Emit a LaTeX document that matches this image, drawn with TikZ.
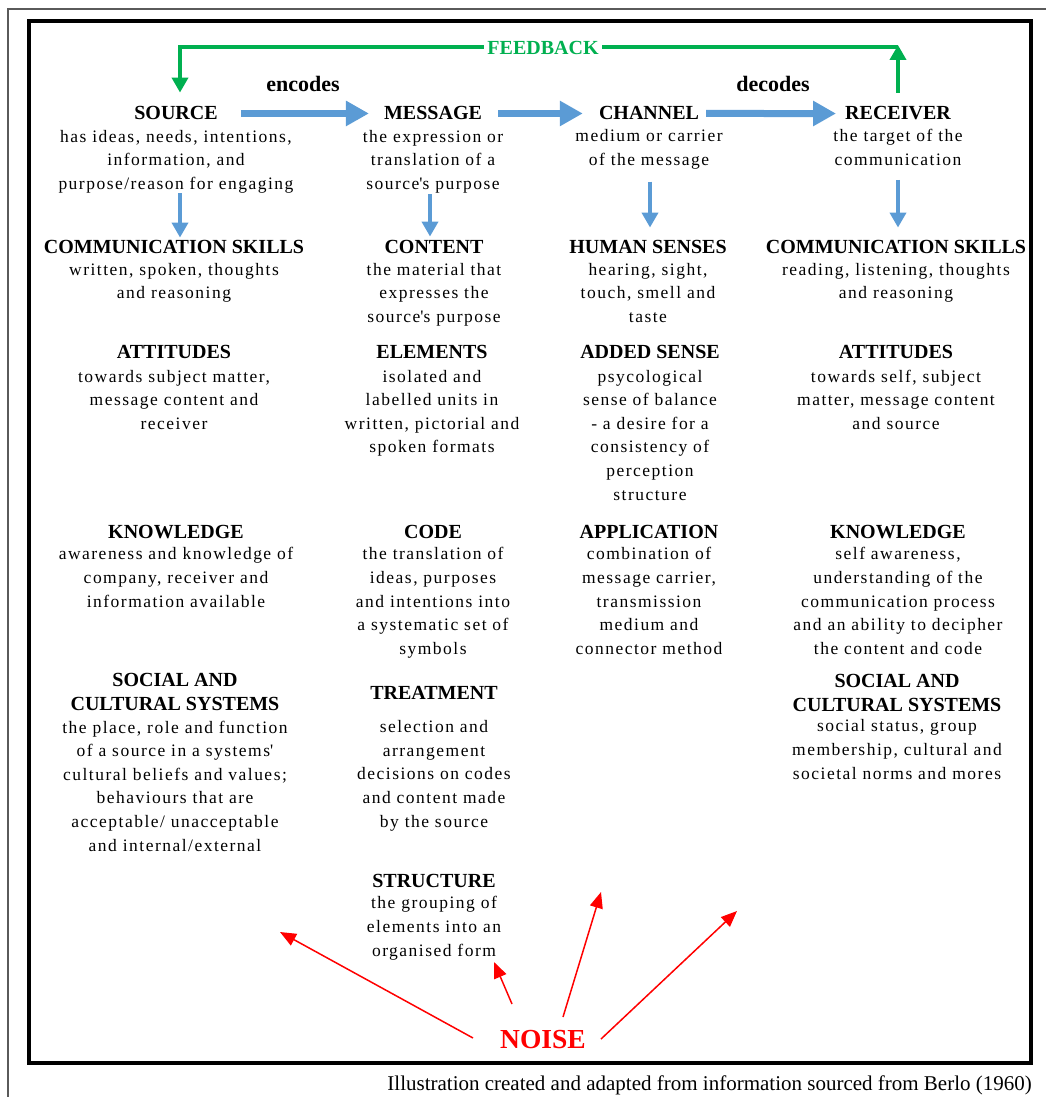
\documentclass[tikz,border=0pt]{standalone}
\usepackage{fontspec}
\setmainfont{Liberation Serif}
\newfontfamily\spacedserif[LetterSpace=8.5]{Liberation Serif}
\usetikzlibrary{arrows.meta}

\definecolor{flowblue}{HTML}{5B9BD5}
\definecolor{fbgreen}{HTML}{00B050}
\definecolor{noisered}{HTML}{FF0000}
\definecolor{rulegray}{HTML}{5A5A5A}

% multi-line nodes sit on the baseline of their last line
\begin{document}
\begin{tikzpicture}[x=1pt,y=-1pt,
  hd/.style={anchor=base, inner sep=0pt, align=center, font=\bfseries\fontsize{20}{24}\selectfont},
  bd/.style={anchor=base, inner sep=0pt, align=center, font=\spacedserif\fontsize{17.5}{23.6}\selectfont},
  flow/.style={draw=flowblue, line width=7pt, -{Triangle[length=23pt,width=24pt]}},
  down/.style={draw=flowblue, line width=4.5pt, -{Triangle[length=15pt,width=16pt]}},
  fb/.style={draw=fbgreen, line width=4pt},
  fbtip/.style={-{Triangle[length=15pt,width=16pt]}},
  noisearrow/.style={draw=noisered, line width=1.5pt, -{Triangle[length=16pt,width=13pt]}},
  lbl/.style={anchor=base, inner sep=0pt, font=\bfseries\fontsize{22}{24}\selectfont},
]
\useasboundingbox (0,0) rectangle (1046,1097);

% frames
\draw[rulegray, line width=1.5pt] (8,1097) -- (8,9) -- (1046,9);
\draw[black, line width=3.5pt] (29,21) rectangle (1031,1063);

% row 1: the four stages
\node[hd] (src) at (176,120) {SOURCE};
\node[bd] (srcb) at (176,189.2) {has ideas, needs, intentions,\\information, and\\purpose/reason for engaging};
\node[hd] (msg) at (433,120) {MESSAGE};
\node[bd] (msgb) at (433,189.2) {the expression or\\translation of a\\source\textquotesingle s purpose};
\node[hd] (chn) at (649,120) {CHANNEL};
\node[bd] (chnb) at (649,165.6) {medium or carrier\\of the message};
\node[hd] (rcv) at (898,120) {RECEIVER};
\node[bd] (rcvb) at (898,165.6) {the target of the\\communication};

% row 2
\node[hd] (skl) at (174,253) {COMMUNICATION SKILLS};
\node[bd] (sklb) at (174,298.6) {written, spoken, thoughts\\and reasoning};
\node[hd] (cnt) at (434,253) {CONTENT};
\node[bd] (cntb) at (434,322.2) {the material that\\expresses the\\source\textquotesingle s purpose};
\node[hd] (sns) at (648,253) {HUMAN SENSES};
\node[bd] (snsb) at (648,322.2) {hearing, sight,\\touch, smell and\\taste};
\node[hd] (skr) at (896,253) {COMMUNICATION SKILLS};
\node[bd] (skrb) at (896,298.6) {reading, listening, thoughts\\and reasoning};

% row 3
\node[hd] (atl) at (174,358) {ATTITUDES};
\node[bd] (atlb) at (174,429.2) {towards subject matter,\\message content and\\receiver};
\node[hd] (elm) at (432,358) {ELEMENTS};
\node[bd] (elmb) at (432,452.8) {isolated and\\labelled units in\\written, pictorial and\\spoken formats};
\node[hd] (add) at (650,358) {ADDED SENSE};
\node[bd] (addb) at (650,500) {psycological\\sense of balance\\- a desire for a\\consistency of\\perception\\structure};
\node[hd] (atr) at (896,358) {ATTITUDES};
\node[bd] (atrb) at (896,429.2) {towards self, subject\\matter, message content\\and source};

% row 4
\node[hd] (knl) at (176,538) {KNOWLEDGE};
\node[bd] (knlb) at (176,607) {awareness and knowledge of\\company, receiver and\\information available};
\node[hd] (cod) at (433,538) {CODE};
\node[bd] (codb) at (433,654.2) {the translation of\\ideas, purposes\\and intentions into\\a systematic set of\\symbols};
\node[hd] (app) at (649,538) {APPLICATION};
\node[bd] (appb) at (649,654.2) {combination of\\message carrier,\\transmission\\medium and\\connector method};
\node[hd] (knr) at (898,538) {KNOWLEDGE};
\node[bd] (knrb) at (898,654.2) {self awareness,\\understanding of the\\communication process\\and an ability to decipher\\the content and code};

% row 5
\node[hd] (scl) at (175,710) {SOCIAL AND\\CULTURAL SYSTEMS};
\node[bd] (sclb) at (175,851) {the place, role and function\\of a source in a systems\textquotesingle\\cultural beliefs and values;\\behaviours that are\\acceptable/ unacceptable\\and internal/external};
\node[hd] (trt) at (434,699) {TREATMENT};
\node[bd] (trtb) at (434,827) {selection and\\arrangement\\decisions on codes\\and content made\\by the source};
\node[hd] (scr) at (897,711) {SOCIAL AND\\CULTURAL SYSTEMS};
\node[bd] (scrb) at (897,779) {social status, group\\membership, cultural and\\societal norms and mores};

% row 6
\node[hd] (str) at (434,887) {STRUCTURE};
\node[bd] (strb) at (434,956) {the grouping of\\elements into an\\organised form};

% main flow
\draw[flow, shorten <=23pt, shorten >=15pt] (src.east) -- (msg.west);
\draw[flow, shorten <=16pt, shorten >=16pt] (msg.east) -- (chn.west);
\draw[flow, shorten <=7pt, shorten >=9pt] (chn.east) -- (rcv.west);
\node[lbl] (enc) at (303,92) {encodes};
\node[lbl] (dec) at (773,92) {decodes};

% downward links
\draw[down, shorten >=2pt] ([xshift=4pt]srcb.south) -- ([xshift=4pt]srcb.south |- skl.north);
\draw[down, shorten <=1pt, shorten >=3pt] ([xshift=-3pt]msgb.south) -- ([xshift=-3pt]msgb.south |- cnt.north);
\draw[down, shorten <=12pt, shorten >=12pt] ([xshift=1pt]chnb.south) -- ([xshift=1pt]chnb.south |- sns.north);
\draw[down, shorten <=14pt, shorten >=12pt] (rcvb.south) -- (rcvb.south |- skr.north);

% feedback loop
\coordinate (fbR) at (898,47);
\coordinate (fbL) at (180,47);
\draw[fb, fbtip, shorten <=14pt] (rcv.north) -- ([yshift=2pt]rcv.north |- fbR);
\draw[fb, fbtip, shorten >=14pt] (fbR) -- (fbL) -- (src.north -| fbL);
\node[hd, text=fbgreen, fill=white, inner xsep=3pt] (fbl) at (543,55) {FEEDBACK};

% noise
\node[anchor=base, inner sep=0pt, text=noisered, font=\bfseries\fontsize{27.5}{30}\selectfont] (noise) at (543,1048) {NOISE};
\coordinate (n1s) at (473,1038); \coordinate (n1e) at (280,932);
\coordinate (n2s) at (512,1004); \coordinate (n2e) at (494,962);
\coordinate (n3s) at (563,1017); \coordinate (n3e) at (601,892);
\coordinate (n4s) at (601,1039); \coordinate (n4e) at (737,911);
\draw[noisearrow] (n1s) -- (n1e);
\draw[noisearrow] (n2s) -- (n2e);
\draw[noisearrow] (n3s) -- (n3e);
\draw[noisearrow] (n4s) -- (n4e);

% source note
\node[anchor=base east, inner sep=0pt, font=\fontsize{21}{24}\selectfont] (cap) at (1032,1090) {Illustration created and adapted from information sourced from Berlo (1960)};
\end{tikzpicture}
\end{document}
